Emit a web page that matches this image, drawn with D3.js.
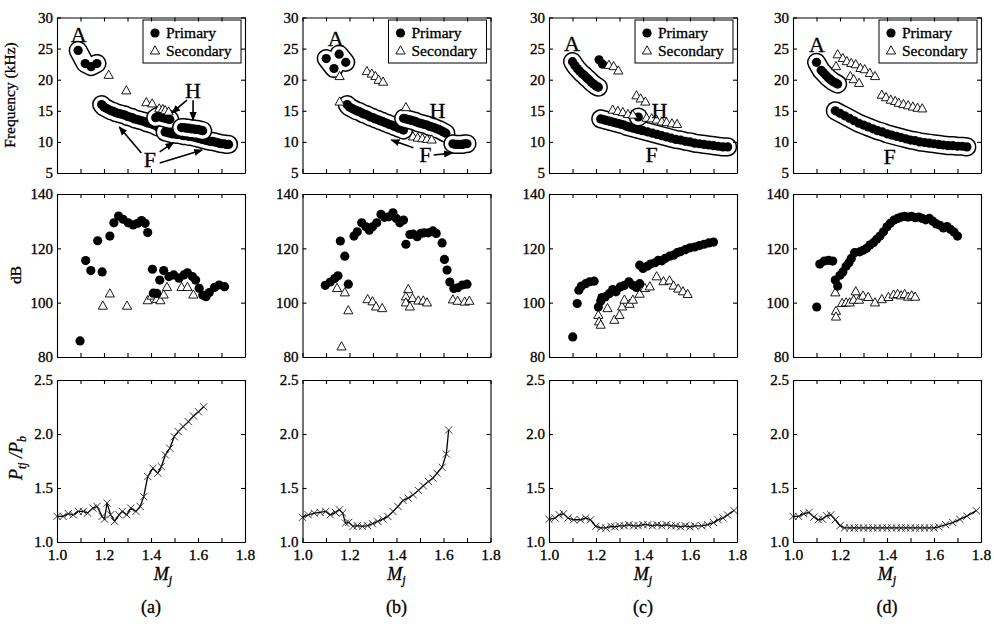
<!DOCTYPE html>
<html><head><meta charset="utf-8">
<script src="https://cdn.jsdelivr.net/npm/d3@7"></script>
<style>
html,body{margin:0;padding:0;background:#fff;}
svg text{font-family:"Liberation Serif","Times New Roman",serif;fill:#000;stroke:#000;stroke-width:0.3px;}
</style></head><body>
<svg id="chart" width="994" height="626"></svg>
<script>
// ---------- tick values ----------
const caseLabels = ["(a)", "(b)", "(c)", "(d)"];
const machTicks = [1.0, 1.1, 1.2, 1.3, 1.4, 1.5, 1.6, 1.7, 1.8];
const machLabelled = [1.0, 1.2, 1.4, 1.6, 1.8];
const freqTicks = [5, 10, 15, 20, 25, 30];
const dbTicks = [80, 100, 120, 140];
const ratioTicks = [1.0, 1.5, 2.0, 2.5];

// ---------- row 1: tone frequency (kHz) vs Mj ----------
// case (a)
const freqA_a = [[1.09,24.7],[1.12,22.6],[1.145,22.1],[1.17,22.6]];
const freqF1_a = [[1.19,16.0],[1.20,15.6],[1.21,15.4],[1.22,15.2],[1.23,15.0],[1.24,14.9],[1.25,14.7],[1.26,14.6],[1.27,14.5],[1.28,14.4],[1.29,14.3],[1.30,14.1],[1.31,14.0],[1.32,13.9],[1.33,13.7],[1.34,13.6],[1.35,13.5],[1.36,13.4],[1.37,13.3],[1.38,13.1],[1.39,13.0],[1.40,12.9],[1.41,12.8],[1.42,12.6],[1.43,12.4]];
const freqF2_a = [[1.46,11.6],[1.47,11.5],[1.48,11.4],[1.49,11.3],[1.50,11.3],[1.51,11.2],[1.52,11.2],[1.53,11.1],[1.54,11.0],[1.55,11.0],[1.56,10.9],[1.57,10.9],[1.58,10.8],[1.59,10.7],[1.60,10.6],[1.61,10.5],[1.62,10.4],[1.63,10.3],[1.64,10.2],[1.65,10.1],[1.66,10.1],[1.67,10.0],[1.68,9.9],[1.69,9.8],[1.70,9.7],[1.71,9.7],[1.72,9.6],[1.73,9.6]];
const freqH1_a = [[1.42,13.9],[1.43,14.1],[1.44,14.0],[1.45,13.9],[1.46,13.8],[1.47,13.7],[1.48,13.6]];
const freqH2_a = [[1.53,12.3],[1.54,12.3],[1.55,12.2],[1.56,12.2],[1.57,12.1],[1.58,12.1],[1.59,12.0],[1.60,12.0],[1.61,11.9],[1.62,11.8]];
const freqSec_a = [[1.22,20.7],[1.295,18.2],[1.38,16.3],[1.405,16.1],[1.435,15.3],[1.45,15.2],[1.46,15.0],[1.475,14.8]];
// case (b)
const freqA_b = [[1.101,23.4],[1.134,21.8],[1.156,24.1],[1.184,22.8]];
const freqF1_b = [[1.19,16.0],[1.20,15.6],[1.21,15.4],[1.22,15.2],[1.23,15.0],[1.24,14.9],[1.25,14.7],[1.26,14.5],[1.27,14.4],[1.28,14.2],[1.29,14.0],[1.30,13.9],[1.31,13.7],[1.32,13.6],[1.33,13.4],[1.34,13.3],[1.35,13.1],[1.36,13.0],[1.37,12.8],[1.38,12.7],[1.39,12.5],[1.40,12.4],[1.41,12.2],[1.42,12.1],[1.43,11.9]];
const freqH_b = [[1.43,13.8],[1.44,13.7],[1.45,13.6],[1.46,13.5],[1.47,13.4],[1.48,13.3],[1.49,13.1],[1.50,13.0],[1.51,12.9],[1.52,12.8],[1.53,12.7],[1.54,12.5],[1.55,12.4],[1.56,12.3],[1.57,12.1],[1.58,12.0],[1.59,11.8],[1.60,11.6],[1.61,11.4]];
const freqF2_b = [[1.64,9.7],[1.65,9.6],[1.66,9.6],[1.67,9.6],[1.68,9.6],[1.69,9.7],[1.70,9.7]];
const freqSec_b = [[1.158,20.5],[1.158,16.4],[1.274,21.3],[1.295,20.9],[1.31,20.5],[1.324,19.9],[1.343,19.6],[1.44,15.5],[1.47,10.8],[1.49,10.6],[1.51,10.5],[1.53,10.4],[1.55,10.3]];
// case (c)
const freqA_c = [[1.10,22.9],[1.11,22.3],[1.12,21.8],[1.13,21.4],[1.14,21.0],[1.15,20.7],[1.16,20.3],[1.17,20.0],[1.18,19.6],[1.19,19.3],[1.20,19.0],[1.21,18.8]];
const freqA2_c = [[1.213,23.2],[1.228,22.5]];
const freqH_c = [[1.38,14.0]];
const freqF_c = [[1.22,13.7],[1.23,13.6],[1.24,13.5],[1.25,13.4],[1.26,13.3],[1.27,13.2],[1.28,13.1],[1.29,13.0],[1.30,12.9],[1.31,12.8],[1.32,12.7],[1.33,12.5],[1.34,12.4],[1.35,12.3],[1.36,12.2],[1.37,12.1],[1.38,12.0],[1.39,11.9],[1.40,11.8],[1.42,11.6],[1.44,11.4],[1.46,11.2],[1.48,11.0],[1.50,10.8],[1.52,10.6],[1.54,10.4],[1.56,10.3],[1.58,10.1],[1.60,10.0],[1.62,9.8],[1.64,9.7],[1.66,9.6],[1.68,9.5],[1.70,9.4],[1.72,9.3],[1.74,9.2],[1.76,9.2]];
const freqSec_c = [[1.255,22.3],[1.275,22.1],[1.295,21.4],[1.372,17.4],[1.39,16.9],[1.41,16.4],[1.271,15.1],[1.293,14.9],[1.314,14.7],[1.336,14.4],[1.357,14.3],[1.415,13.8],[1.437,13.7],[1.458,13.5],[1.48,13.2],[1.50,13.1],[1.523,12.9],[1.545,12.8]];
// case (d)
const freqA_d = [[1.10,22.8],[1.12,21.5],[1.13,21.1],[1.14,20.7],[1.15,20.3],[1.16,20.0],[1.17,19.7],[1.18,19.5],[1.19,19.3]];
const freqF_d = [[1.18,15.0],[1.20,14.6],[1.22,14.2],[1.24,13.8],[1.26,13.4],[1.28,13.0],[1.30,12.7],[1.32,12.4],[1.34,12.1],[1.36,11.8],[1.38,11.6],[1.40,11.3],[1.42,11.1],[1.44,10.9],[1.46,10.7],[1.48,10.5],[1.50,10.3],[1.52,10.2],[1.54,10.0],[1.56,9.9],[1.58,9.8],[1.60,9.7],[1.62,9.6],[1.64,9.5],[1.66,9.4],[1.68,9.4],[1.70,9.3],[1.72,9.3],[1.74,9.2]];
const freqSec_d = [[1.19,24.0],[1.212,23.4],[1.229,22.9],[1.248,22.6],[1.267,22.4],[1.287,21.8],[1.305,21.6],[1.327,21.0],[1.349,20.5],[1.183,22.1],[1.244,20.5],[1.258,20.0],[1.281,19.4],[1.378,17.5],[1.396,17.1],[1.416,16.7],[1.435,16.5],[1.45,16.2],[1.47,16.0],[1.49,15.8],[1.51,15.6],[1.53,15.4],[1.55,15.3]];

// ---------- row 2: tone amplitude (dB) vs Mj ----------
const dbPri_a = [[1.098,85.9],[1.122,115.5],[1.144,111.8],[1.173,122.8],[1.192,111.3],[1.225,124.5],[1.242,129.4],[1.262,131.9],[1.281,130.7],[1.303,129.4],[1.324,128.6],[1.343,129.2],[1.36,130.2],[1.375,129.2],[1.386,125.8],[1.406,112.3],[1.41,103.5],[1.425,103.4],[1.437,108.3],[1.454,111.8],[1.476,109.6],[1.497,110.2],[1.519,109.0],[1.54,110.2],[1.555,111.0],[1.576,109.6],[1.59,108.3],[1.605,105.3],[1.62,102.8],[1.634,102.2],[1.648,103.7],[1.67,105.6],[1.69,106.5],[1.713,105.9]];
const dbSec_a = [[1.195,98.7],[1.225,103.2],[1.298,98.7],[1.386,100.7],[1.403,102.4],[1.425,101.2],[1.44,100.7],[1.454,102.8],[1.468,105.6],[1.53,105.6],[1.555,105.6],[1.58,102.8]];
const dbPri_b = [[1.097,106.4],[1.118,107.6],[1.137,108.9],[1.151,109.9],[1.161,122.7],[1.18,117.1],[1.195,106.8],[1.219,124.5],[1.233,126.1],[1.252,129.4],[1.27,127.9],[1.284,126.7],[1.298,127.9],[1.316,129.4],[1.334,132.5],[1.349,131.4],[1.367,131.6],[1.385,133.1],[1.399,131.0],[1.414,129.4],[1.43,130.4],[1.44,121.5],[1.457,125.1],[1.471,125.2],[1.488,124.3],[1.503,125.5],[1.517,125.7],[1.536,125.7],[1.555,126.4],[1.569,125.5],[1.594,122.0],[1.604,115.9],[1.615,112.0],[1.627,107.6],[1.644,105.2],[1.66,105.5],[1.68,106.5],[1.70,106.8]];
const dbSec_b = [[1.147,105.2],[1.18,103.6],[1.195,97.0],[1.166,83.7],[1.277,101.1],[1.298,100.3],[1.313,98.4],[1.339,97.8],[1.45,104.8],[1.44,102.1],[1.44,99.9],[1.457,98.4],[1.468,101.5],[1.493,100.6],[1.514,100.6],[1.53,99.9],[1.64,101.0],[1.66,100.5],[1.69,100.2],[1.71,100.5]];
const dbPri_c = [[1.101,87.4],[1.12,99.7],[1.127,104.6],[1.138,106.1],[1.156,107.0],[1.173,107.7],[1.192,107.9],[1.21,98.4],[1.22,100.6],[1.225,101.9],[1.239,102.1],[1.256,103.3],[1.271,104.8],[1.285,104.0],[1.303,105.8],[1.321,106.4],[1.34,107.7],[1.357,106.4],[1.372,105.6],[1.386,107.0],[1.386,113.8],[1.40,112.6],[1.418,113.4],[1.432,114.2],[1.451,114.7],[1.465,115.6],[1.48,115.4],[1.494,116.3],[1.513,117.1],[1.53,117.5],[1.545,118.4],[1.56,118.8],[1.58,119.5],[1.60,120.2],[1.62,120.5],[1.64,121.0],[1.66,121.5],[1.68,122.0],[1.70,122.3]];
const dbSec_c = [[1.21,95.3],[1.213,92.9],[1.22,91.7],[1.249,97.8],[1.278,93.5],[1.30,95.3],[1.311,98.4],[1.321,100.9],[1.343,99.4],[1.357,100.9],[1.386,103.1],[1.408,105.2],[1.429,105.8],[1.458,109.5],[1.487,107.7],[1.513,108.0],[1.53,106.1],[1.55,105.0],[1.57,104.0],[1.59,103.0]];
const dbPri_d = [[1.101,98.4],[1.114,114.2],[1.133,115.3],[1.151,115.6],[1.169,115.3],[1.18,108.3],[1.19,106.1],[1.20,110.1],[1.212,111.3],[1.226,113.4],[1.238,114.7],[1.248,116.3],[1.262,118.4],[1.284,118.7],[1.298,119.3],[1.313,120.0],[1.327,121.2],[1.342,122.1],[1.356,123.3],[1.37,124.5],[1.385,126.1],[1.40,127.9],[1.414,129.2],[1.43,130.4],[1.445,131.0],[1.46,131.5],[1.475,131.8],[1.49,131.5],[1.505,131.8],[1.52,131.3],[1.535,131.5],[1.55,131.0],[1.565,130.5],[1.58,131.0],[1.595,130.0],[1.61,129.0],[1.625,128.5],[1.64,127.5],[1.655,128.0],[1.67,127.0],[1.685,126.0],[1.70,124.5]];
const dbSec_d = [[1.18,103.6],[1.183,96.8],[1.183,94.7],[1.209,99.7],[1.226,99.9],[1.241,99.9],[1.258,100.9],[1.267,104.0],[1.281,100.9],[1.298,102.4],[1.32,101.9],[1.349,99.9],[1.378,101.1],[1.406,101.9],[1.428,102.8],[1.445,103.0],[1.46,102.5],[1.475,103.0],[1.49,102.0],[1.505,102.5],[1.52,102.0]];

// ---------- row 3: pressure ratio Ptj/Pb vs Mj ----------
const ratio_a = [[1.0,1.237],[1.026,1.237],[1.048,1.262],[1.069,1.252],[1.091,1.283],[1.112,1.283],[1.13,1.268],[1.153,1.314],[1.17,1.329],[1.192,1.237],[1.202,1.212],[1.213,1.36],[1.228,1.252],[1.245,1.191],[1.264,1.252],[1.278,1.283],[1.297,1.252],[1.314,1.314],[1.336,1.283],[1.354,1.329],[1.369,1.42],[1.386,1.606],[1.408,1.683],[1.429,1.637],[1.444,1.698],[1.461,1.806],[1.48,1.868],[1.499,1.975],[1.516,2.022],[1.537,2.068],[1.559,2.114],[1.581,2.166],[1.602,2.206],[1.624,2.252]];
const ratio_b = [[1.0,1.228],[1.024,1.252],[1.05,1.268],[1.075,1.274],[1.099,1.283],[1.118,1.252],[1.14,1.274],[1.157,1.298],[1.171,1.268],[1.183,1.175],[1.197,1.182],[1.215,1.145],[1.233,1.151],[1.255,1.145],[1.277,1.151],[1.298,1.169],[1.32,1.191],[1.342,1.212],[1.363,1.237],[1.385,1.283],[1.406,1.329],[1.428,1.385],[1.45,1.406],[1.471,1.437],[1.493,1.477],[1.514,1.52],[1.536,1.56],[1.555,1.591],[1.572,1.637],[1.594,1.692],[1.612,1.815],[1.622,2.037]];
const ratio_c = [[1.0,1.21],[1.026,1.222],[1.043,1.252],[1.062,1.262],[1.081,1.222],[1.105,1.206],[1.134,1.206],[1.156,1.222],[1.177,1.206],[1.199,1.145],[1.22,1.13],[1.242,1.13],[1.264,1.145],[1.28,1.14],[1.30,1.15],[1.32,1.15],[1.34,1.16],[1.36,1.15],[1.38,1.15],[1.40,1.16],[1.42,1.16],[1.44,1.15],[1.46,1.16],[1.48,1.15],[1.50,1.16],[1.52,1.15],[1.54,1.15],[1.56,1.14],[1.58,1.15],[1.60,1.14],[1.62,1.15],[1.65,1.15],[1.675,1.16],[1.70,1.18],[1.72,1.205],[1.74,1.222],[1.76,1.25],[1.787,1.292]];
const ratio_d = [[1.0,1.237],[1.024,1.237],[1.046,1.262],[1.068,1.274],[1.089,1.231],[1.108,1.206],[1.125,1.212],[1.143,1.243],[1.161,1.252],[1.18,1.206],[1.20,1.151],[1.219,1.13],[1.241,1.13],[1.26,1.13],[1.28,1.13],[1.30,1.13],[1.32,1.13],[1.34,1.13],[1.36,1.13],[1.38,1.13],[1.40,1.13],[1.42,1.13],[1.44,1.13],[1.46,1.13],[1.48,1.13],[1.50,1.13],[1.52,1.13],[1.54,1.13],[1.56,1.13],[1.58,1.13],[1.60,1.13],[1.62,1.14],[1.65,1.16],[1.68,1.18],[1.71,1.21],[1.74,1.24],[1.78,1.29]];

// ---------- mode annotations (label position and arrows, in data units) ----------
const notes_a = [{t:"A",m:1.092,f:27.3},{t:"H",m:1.579,f:18.2},{t:"F",m:1.395,f:7.1}];
const arrows_a = [[1.553,16.7,1.489,14.65],[1.579,16.7,1.579,13.5],[1.359,8.2,1.265,12.4],[1.437,8.4,1.496,9.9],[1.437,6.6,1.618,8.7]];
const notes_b = [{t:"A",m:1.141,f:26.65},{t:"H",m:1.574,f:15.0},{t:"F",m:1.523,f:7.9}];
const arrows_b = [[1.472,9.07,1.378,10.3],[1.558,7.9,1.637,8.2]];
const notes_c = [{t:"A",m:1.098,f:25.85},{t:"H",m:1.47,f:15.1},{t:"F",m:1.437,f:7.9}];
const arrows_c = [];
const notes_d = [{t:"A",m:1.102,f:25.7},{t:"F",m:1.411,f:7.6}];
const arrows_d = [];

// ---------- table used for drawing ----------
const cases = [
  {groups:[{p:freqF1_a,ring:true},{p:freqF2_a,ring:true},{p:freqH1_a,ring:true},{p:freqH2_a,ring:true},{p:freqA_a,ring:true}],
   sec:freqSec_a, dbP:dbPri_a, dbS:dbSec_a, ratio:ratio_a, notes:notes_a, arrows:arrows_a},
  {groups:[{p:freqF1_b,ring:true},{p:freqH_b,ring:true},{p:freqF2_b,ring:true},{p:freqA_b,ring:true}],
   sec:freqSec_b, dbP:dbPri_b, dbS:dbSec_b, ratio:ratio_b, notes:notes_b, arrows:arrows_b},
  {groups:[{p:freqA_c,ring:true},{p:freqA2_c,ring:false},{p:freqF_c,ring:true},{p:freqH_c,ring:true}],
   sec:freqSec_c, dbP:dbPri_c, dbS:dbSec_c, ratio:ratio_c, notes:notes_c, arrows:arrows_c},
  {groups:[{p:freqA_d,ring:true},{p:freqF_d,ring:true}],
   sec:freqSec_d, dbP:dbPri_d, dbS:dbSec_d, ratio:ratio_d, notes:notes_d, arrows:arrows_d}
];

// ---------- layout ----------
const colLeft = [57, 302.5, 549, 793];
const panelW = 188;
const rows = [
  {top:17.5, bottom:173, domain:[5,30], ticks:freqTicks, fmt:d3.format("d")},
  {top:194, bottom:357, domain:[80,140], ticks:dbTicks, fmt:d3.format("d")},
  {top:380, bottom:542, domain:[1.0,2.5], ticks:ratioTicks, fmt:d3.format(".1f")}
];
const R = 4.6;                       // filled-circle radius
const triPath = "M0,-5.2L4.6,3L-4.6,3Z";
const crossPath = "M-3.6,-3.6L3.6,3.6M-3.6,3.6L3.6,-3.6";

const svg = d3.select("#chart");
svg.append("rect").attr("width",994).attr("height",626).attr("fill","#fff");
const defs = svg.append("defs");
defs.append("marker").attr("id","head").attr("viewBox","0 0 10 10")
  .attr("refX",9).attr("refY",5).attr("markerWidth",9).attr("markerHeight",9)
  .attr("markerUnits","userSpaceOnUse").attr("orient","auto")
  .append("path").attr("d","M0,1L10,5L0,9Z").attr("fill","#000");

function frame(g, x, y, row, showX) {
  const [x0, x1] = x.range();
  const axB = d3.axisBottom(x).tickValues(machTicks).tickSize(-4).tickSizeOuter(0).tickPadding(7)
    .tickFormat(d => showX && machLabelled.some(v => Math.abs(v - d) < 1e-9) ? d3.format(".1f")(d) : "");
  const axT = d3.axisTop(x).tickValues(machTicks).tickSize(-4).tickSizeOuter(0).tickFormat("");
  const axL = d3.axisLeft(y).tickValues(row.ticks).tickSize(-4).tickSizeOuter(0).tickPadding(4).tickFormat(row.fmt);
  const axR = d3.axisRight(y).tickValues(row.ticks).tickSize(-4).tickSizeOuter(0).tickFormat("");
  const gb = g.append("g").attr("transform",`translate(0,${row.bottom})`).call(axB);
  g.append("g").attr("transform",`translate(0,${row.top})`).call(axT);
  const gl = g.append("g").attr("transform",`translate(${x0},0)`).call(axL);
  g.append("g").attr("transform",`translate(${x1},0)`).call(axR);
  g.selectAll(".domain, .tick line").attr("stroke","#000").attr("stroke-width",1.1);
  gl.selectAll("text").attr("font-family","Liberation Serif, serif").attr("font-size",15);
  gb.selectAll("text").attr("font-family","Liberation Serif, serif").attr("font-size",15.5);
}

cases.forEach((c, i) => {
  const left = colLeft[i];
  const x = d3.scaleLinear().domain([1.0, 1.8]).range([left, left + panelW]);
  const ys = rows.map(r => d3.scaleLinear().domain(r.domain).range([r.bottom, r.top]));
  const g = svg.append("g");

  // ---- row 1 ----
  const yF = ys[0];
  const line = d3.line().x(d => x(d[0])).y(d => yF(d[1]));
  const g1 = g.append("g");
  c.groups.forEach(grp => {
    let pts = grp.p.length === 1 ? [grp.p[0], [grp.p[0][0] + 0.0005, grp.p[0][1]]] : grp.p;
    if (grp.ring) {
      g1.append("path").attr("d", line(pts)).attr("fill","none").attr("stroke","#000")
        .attr("stroke-width", 2*R + 10).attr("stroke-linecap","round").attr("stroke-linejoin","round");
      g1.append("path").attr("d", line(pts)).attr("fill","none").attr("stroke","#fff")
        .attr("stroke-width", 2*R + 7).attr("stroke-linecap","round").attr("stroke-linejoin","round");
    }
    g1.selectAll(null).data(grp.p).enter().append("circle")
      .attr("cx", d => x(d[0])).attr("cy", d => yF(d[1])).attr("r", R).attr("fill","#000");
  });
  g1.selectAll(null).data(c.sec).enter().append("path").attr("d", triPath)
    .attr("transform", d => `translate(${x(d[0])},${yF(d[1])})`)
    .attr("fill","#fff").attr("stroke","#000").attr("stroke-width",0.9);
  c.arrows.forEach(a => {
    g1.append("line").attr("x1",x(a[0])).attr("y1",yF(a[1])).attr("x2",x(a[2])).attr("y2",yF(a[3]))
      .attr("stroke","#000").attr("stroke-width",1.6).attr("marker-end","url(#head)");
  });
  c.notes.forEach(n => {
    g1.append("text").attr("x",x(n.m)).attr("y",yF(n.f)).attr("text-anchor","middle")
      .attr("dominant-baseline","central").attr("font-size",22).text(n.t);
  });
  // legend
  const lg = g1.append("g").attr("transform",`translate(${left + 86},20)`);
  lg.append("rect").attr("width",98).attr("height",43).attr("fill","#fff").attr("stroke","#000").attr("stroke-width",1);
  lg.append("circle").attr("cx",12).attr("cy",13).attr("r",R).attr("fill","#000");
  lg.append("path").attr("d",triPath).attr("transform","translate(12,31)").attr("fill","#fff").attr("stroke","#000").attr("stroke-width",0.9);
  lg.append("text").attr("x",23).attr("y",18).attr("font-size",15.5).text("Primary");
  lg.append("text").attr("x",23).attr("y",36).attr("font-size",15.5).text("Secondary");
  frame(g, x, yF, rows[0], false);

  // ---- row 2 ----
  const yD = ys[1];
  const g2 = g.append("g");
  g2.selectAll(null).data(c.dbS).enter().append("path").attr("d", triPath)
    .attr("transform", d => `translate(${x(d[0])},${yD(d[1])})`)
    .attr("fill","#fff").attr("stroke","#000").attr("stroke-width",0.9);
  g2.selectAll(null).data(c.dbP).enter().append("circle")
    .attr("cx", d => x(d[0])).attr("cy", d => yD(d[1])).attr("r", R).attr("fill","#000");
  frame(g, x, yD, rows[1], false);

  // ---- row 3 ----
  const yR = ys[2];
  const g3 = g.append("g");
  g3.append("path").datum(c.ratio)
    .attr("d", d3.line().x(d => x(d[0])).y(d => yR(d[1])))
    .attr("fill","none").attr("stroke","#000").attr("stroke-width",1.3);
  g3.selectAll(null).data(c.ratio).enter().append("path").attr("d", crossPath)
    .attr("transform", d => `translate(${x(d[0])},${yR(d[1])})`)
    .attr("fill","none").attr("stroke","#222").attr("stroke-width",0.9);
  frame(g, x, yR, rows[2], true);

  // Mj label and case caption
  const mx = left + panelW / 2 + (i === 0 ? 12 : 0);
  const mt = g.append("text").attr("x", mx).attr("y", 580).attr("text-anchor","middle")
    .attr("font-size",18).attr("font-style","italic");
  mt.append("tspan").text("M");
  mt.append("tspan").attr("dy",4).attr("font-size",12).text("j");
  g.append("text").attr("x", left + panelW / 2).attr("y", 613).attr("text-anchor","middle")
    .attr("font-size",18).text(caseLabels[i]);
});

// y-axis titles (left column only)
svg.append("text").attr("transform","translate(15,95) rotate(-90)").attr("text-anchor","middle")
  .attr("font-size",15.5).text("Frequency (kHz)");
svg.append("text").attr("transform","translate(21,275) rotate(-90)").attr("text-anchor","middle")
  .attr("font-size",15.5).text("dB");
const pt = svg.append("text").attr("transform","translate(22,458) rotate(-90)").attr("text-anchor","middle")
  .attr("font-size",18).attr("font-style","italic");
pt.append("tspan").text("P");
pt.append("tspan").attr("dy",4).attr("font-size",12).text("tj");
pt.append("tspan").attr("dy",-4).text(" /P");
pt.append("tspan").attr("dy",4).attr("font-size",12).text("b");
</script>
</body></html>
